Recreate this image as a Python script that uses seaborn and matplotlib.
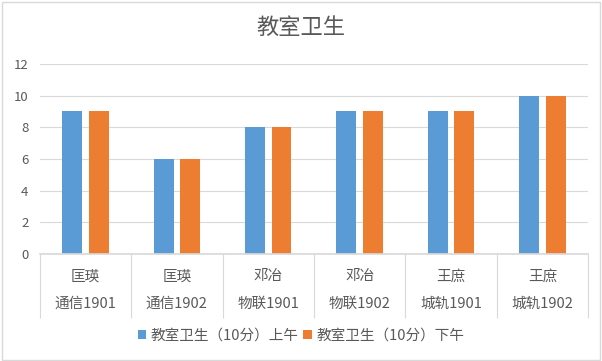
import pandas as pd
import numpy as np
import matplotlib.pyplot as plt
import seaborn as sns
from matplotlib.patches import Rectangle

# data
classes   = ['匡瑛\n通信1901', '匡瑛\n通信1902', '邓冶\n物联1901', '邓冶\n物联1902', '王庶\n城轨1901', '王庶\n城轨1902']
morning   = [9, 6, 8, 9, 9, 10]
afternoon = [9, 6, 8, 9, 9, 10]
series    = ['教室卫生（10分）上午', '教室卫生（10分）下午']

df = pd.DataFrame({'班级': classes * 2,
                   '得分': morning + afternoon,
                   '时段': [series[0]] * len(classes) + [series[1]] * len(classes)})

sns.set_theme(style='white')
plt.rcParams['font.family'] = ['Noto Sans CJK SC', 'DejaVu Sans']

fig = plt.figure(figsize=(6.02, 3.61), dpi=100)
ax = fig.add_axes([0.066, 0.296, 0.911, 0.527])

sns.barplot(data=df, x='班级', y='得分', hue='时段', palette=['#5B9BD5', '#ED7D31'],
            saturation=1, width=0.58, gap=0.25, linewidth=0, ax=ax, legend=True)

ax.set_ylim(0, 12)
ax.set_yticks(range(0, 13, 2))
ax.set_xlim(-0.5, len(classes) - 0.5)
ax.yaxis.grid(True, color='#D9D9D9', linewidth=0.8)
ax.set_axisbelow(True)
for s in ['top', 'right', 'left']:
    ax.spines[s].set_visible(False)
ax.spines['bottom'].set_color('#D9D9D9')
ax.set_xlabel('')
ax.set_ylabel('')
ax.tick_params(axis='y', length=0, labelsize=9.5, labelcolor='#595959', pad=8)
ax.tick_params(axis='x', which='major', length=0, labelsize=10.5, labelcolor='#595959', pad=11)
for t in ax.get_xticklabels():
    t.set_linespacing(2.2)

# category separators below the axis
ax.set_xticks(np.arange(-0.5, len(classes)), minor=True)
ax.tick_params(axis='x', which='minor', bottom=True, length=46, color='#D9D9D9', width=0.8, direction='out')

fig.text(0.5, 0.925, '教室卫生', ha='center', va='center', fontsize=16, color='#595959')

ax.legend(loc='center', bbox_to_anchor=(0.5, 0.07), bbox_transform=fig.transFigure,
          ncol=2, frameon=False, fontsize=10.5, handlelength=0.6, handleheight=0.6,
          handletextpad=0.3, columnspacing=0.3, labelcolor='#595959')

fig.patches.append(Rectangle((0.003, 0.004), 0.994, 0.99, transform=fig.transFigure,
                             fill=False, edgecolor='#D9D9D9', linewidth=1))

fig.savefig('out.png', dpi=100)
